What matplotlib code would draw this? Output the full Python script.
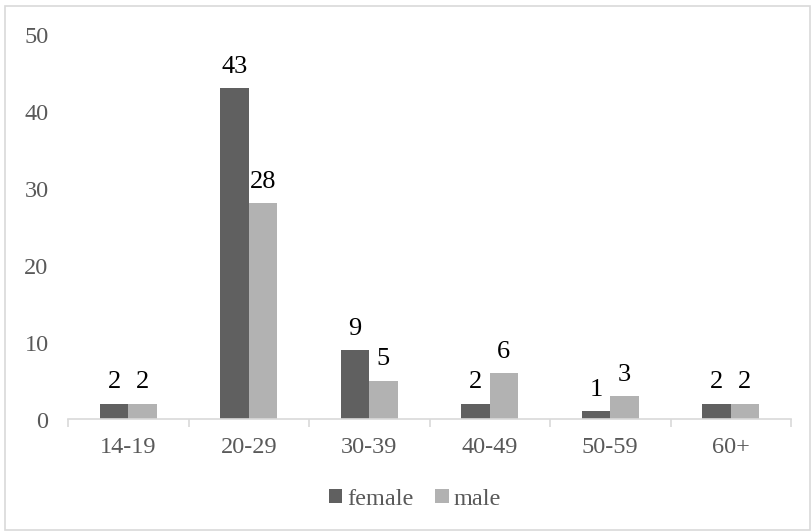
import matplotlib
matplotlib.use("Agg")
import matplotlib.pyplot as plt
from matplotlib.patches import Rectangle
import numpy as np

categories = ["14-19", "20-29", "30-39", "40-49", "50-59", "60+"]
female = [2, 43, 9, 2, 1, 2]
male = [2, 28, 5, 6, 3, 2]
yticks = [0, 10, 20, 30, 40, 50]

plt.rcParams['font.family'] = ['Liberation Serif', 'DejaVu Serif']

fig = plt.figure(figsize=8.11 * np.array([1, 532 / 811]), dpi=100)
ax = fig.add_axes([68 / 811, 1 - 420 / 532, (791 - 68) / 811, (420 - 35) / 532])

x = np.arange(len(categories))
w = 0.235
b1 = ax.bar(x - w / 2, female, w, color="#606060", label="female")
b2 = ax.bar(x + w / 2, male, w, color="#b2b2b2", label="male")

for bars, vals in ((b1, female), (b2, male)):
    for rect, v in zip(bars, vals):
        ax.annotate(str(v), (rect.get_x() + rect.get_width() / 2, rect.get_height()),
                    xytext=(0, 8), textcoords="offset points", ha="center", va="bottom",
                    fontsize=19, color="black")

ax.set_xlim(-0.5, len(categories) - 0.5)
ax.set_ylim(0, 50)
ax.set_yticks(yticks)
ax.set_xticks(x)
ax.set_xticklabels(categories)
ax.set_xticks(np.arange(-0.5, len(categories), 1.0), minor=True)
ax.tick_params(axis="x", which="major", length=0, pad=12, labelsize=17.5, colors="#595959")
ax.tick_params(axis="x", which="minor", length=6, width=1.2, color="#d9d9d9", direction="out")
ax.tick_params(axis="y", length=0, pad=14, labelsize=17.5, colors="#595959")
for s in ("top", "right", "left"):
    ax.spines[s].set_visible(False)
ax.spines["bottom"].set_color("#d9d9d9")
ax.spines["bottom"].set_linewidth(1.2)

fig.legend(handles=[b1, b2], labels=["female", "male"], loc="center",
           bbox_to_anchor=(415 / 811, 1 - 500 / 532), ncol=2, frameon=False,
           fontsize=17.5, handlelength=0.55, handleheight=0.55, handletextpad=0.2,
           columnspacing=0.9, labelcolor="#595959")

fig.patches.append(Rectangle((5 / 811, 0.002), 1 - 6 / 811, 1 - 7 / 532 - 0.002,
                             transform=fig.transFigure, fill=False,
                             edgecolor="#d9d9d9", linewidth=1.2))

fig.savefig("out.png", dpi=100)
